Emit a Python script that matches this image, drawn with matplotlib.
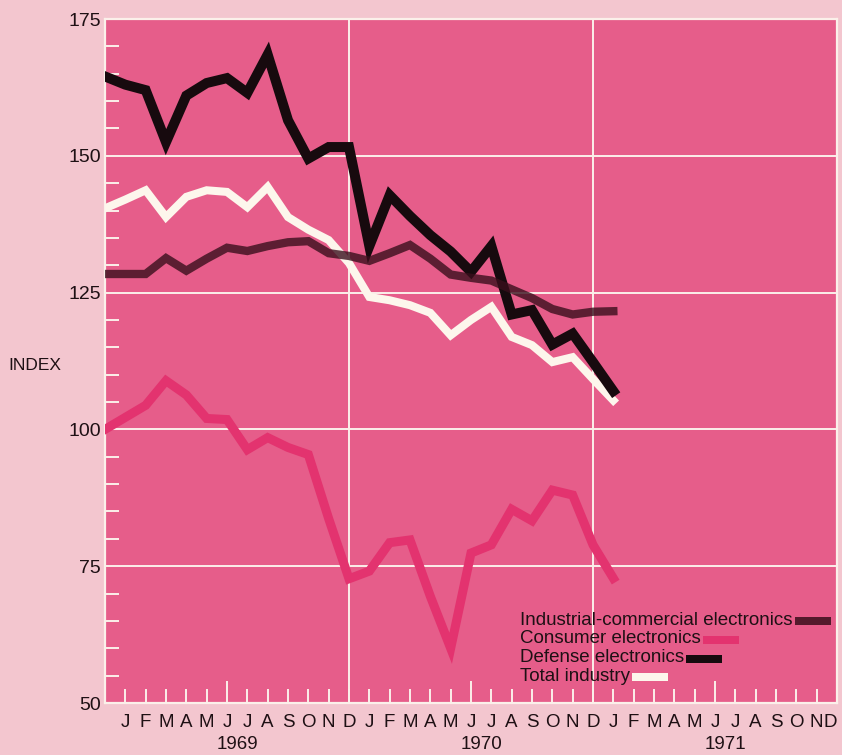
import matplotlib
matplotlib.use("Agg")
import matplotlib.pyplot as plt
import matplotlib.transforms as mtransforms
from matplotlib.patches import Rectangle
import numpy as np

# monthly index values, Dec 1968 .. Jan 1971
defense = [164.5, 163, 162, 152.5, 161, 163.3, 164.2, 161.5, 168.5, 156.5, 149.5,
           151.6, 151.6, 133.5, 142.8, 139, 135.5, 132.5, 128.8, 133.5, 121, 121.8,
           115.5, 117.5, 112.3, 107]
total = [140.4, 142, 143.7, 138.8, 142.5, 143.7, 143.4, 140.6, 144.3, 138.8, 136.5,
         134.6, 130.4, 124.2, 123.6, 122.7, 121.3, 117.2, 120, 122.4, 116.9, 115.4,
         112.3, 113.2, 109.2, 105.3]
industrial = [128.4, 128.4, 128.4, 131.3, 129, 131.2, 133.2, 132.6, 133.5, 134.2, 134.4,
              132.2, 131.7, 130.8, 132.2, 133.7, 131.2, 128.3, 127.7, 127.2, 125.6, 124,
              122, 121, 121.5, 121.6]
consumer = [100, 102.2, 104.4, 108.9, 106.3, 102, 101.8, 96.3, 98.5, 96.7, 95.4,
            83.7, 72.7, 74.1, 79.3, 79.8, 69.5, 60, 77.4, 78.9, 85.4, 83.3, 88.9, 88,
            78.9, 72.8]

month_letters = ["J", "F", "M", "A", "M", "J", "J", "A", "S", "O", "N", "D"] * 3
years = ["1969", "1970", "1971"]
legend_names = ["Industrial-commercial electronics", "Consumer electronics",
                "Defense electronics", "Total industry"]

outer_bg = "#f3c6cf"
plot_bg = "#e65d8a"
grid_c = "#fbf0ea"
c_def = "#170a0e"
c_tot = "#fdf6ec"
c_ind = "#3a0f1c"
c_con = "#e3336f"
txt_c = "#1e1014"

plt.rcParams['font.family'] = ['Liberation Sans', 'DejaVu Sans']

fig = plt.figure(figsize=(8.42, 7.55), dpi=100, facecolor=outer_bg)
ax = fig.add_axes([105 / 842, 52 / 755, 732 / 842, 684 / 755])
ax.set_facecolor(plot_bg)

x = np.arange(len(defense))

# grid
for v in [75, 100, 125, 150]:
    ax.axhline(v, color=grid_c, lw=1.4, zorder=1)
for v in [12, 24]:
    ax.axvline(v, color=grid_c, lw=1.4, zorder=1)

ax.plot(x, consumer, color=c_con, lw=6.5, solid_joinstyle='miter', zorder=3)
ax.plot(x, total, color=c_tot, lw=5.8, solid_joinstyle='miter', zorder=4)
ax.plot(x, defense, color=c_def, lw=7.2, solid_joinstyle='miter', zorder=5)
ax.plot(x, industrial, color=c_ind, lw=6.0, alpha=0.8, solid_joinstyle='miter', zorder=6)

ax.set_xlim(0, 36)
ax.set_ylim(50, 175)

for s in ax.spines.values():
    s.set_color(grid_c)
    s.set_linewidth(1.6)

ax.set_yticks([50, 75, 100, 125, 150, 175])
ax.set_yticks(np.arange(50, 176, 5), minor=True)
ax.tick_params(axis='y', which='both', direction='in', colors=grid_c, width=1.4,
               labelcolor=txt_c, labelsize=14, pad=3)
ax.tick_params(axis='y', which='minor', length=10)
ax.tick_params(axis='y', which='major', length=0)

ax.set_xticks(np.arange(1, 37))
ax.set_xticklabels(month_letters)
ax.tick_params(axis='x', direction='in', colors=grid_c, width=1.4, length=10,
               labelcolor=txt_c, labelsize=13.5, pad=8)
for i, t in enumerate(ax.xaxis.get_major_ticks()):
    if (i + 1) % 12 == 6:
        t.tick1line.set_markersize(16)
# last month letter sits at the figure edge
ax.get_xticklabels()[-1].set_ha('right')

trans = mtransforms.blended_transform_factory(ax.transData, ax.transAxes)
for k, yr in enumerate(years):
    ax.text(6.5 + 12 * k, -0.06, yr, transform=trans, ha='center', va='center',
            fontsize=13.5, color=txt_c)

fig.text(35 / 842, 1 - 365 / 755, "INDEX", ha='center', va='center',
         fontsize=12.5, color=txt_c)

# legend: text followed by a swatch
leg_y = [0.121, 0.094, 0.066, 0.039]
leg_c = [c_ind, c_con, c_def, c_tot]
leg_a = [0.85, 1, 1, 1]
texts = []
for name, yy in zip(legend_names, leg_y):
    texts.append(ax.text(0.567, yy, name, transform=ax.transAxes, ha='left',
                         va='center', fontsize=13.5, color=txt_c, zorder=8))
fig.canvas.draw()
r = fig.canvas.get_renderer()
inv = ax.transAxes.inverted()
for t, c, a in zip(texts, leg_c, leg_a):
    bb = t.get_window_extent(r)
    ymid = (bb.y0 + bb.y1) / 2
    (x0, y0) = inv.transform((bb.x1 + 2, ymid - 5))
    (x1, y1) = inv.transform((bb.x1 + 38, ymid + 3))
    ax.add_patch(Rectangle((x0, y0), x1 - x0, y1 - y0, transform=ax.transAxes,
                           facecolor=c, alpha=a, edgecolor='none', zorder=8))

fig.savefig("out.png", dpi=100, facecolor=outer_bg)
